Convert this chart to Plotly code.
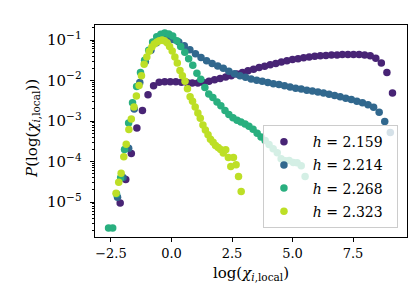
import plotly.graph_objects as go
import numpy as np

# ---- data; y given as log10 of P ----
x_h2159 = [-2.12,-1.89,-1.66,-1.43,-1.20,-0.97,-0.74,-0.51,-0.28,-0.05,0.18,0.41,0.64,0.86,1.09,1.32,1.55,1.78,2.01,2.24,
           2.47,2.70,2.93,3.16,3.39,3.62,3.85,4.08,4.31,4.54,4.77,5.00,5.23,5.46,5.69,5.92,6.15,6.38,6.61,6.84,
           7.06,7.29,7.52,7.75,7.98,8.21,8.44,8.67,8.90,9.13]
log10p_h2159 = [-5.02,-4.44,-3.80,-3.17,-2.74,-2.35,-2.13,-2.04,-2.03,-2.03,-2.03,-2.04,-2.05,-2.06,-2.06,-2.05,-2.02,-1.98,-1.95,-1.91,
                -1.88,-1.84,-1.80,-1.76,-1.72,-1.68,-1.65,-1.61,-1.58,-1.54,-1.51,-1.48,-1.46,-1.44,-1.42,-1.40,-1.39,-1.38,-1.37,-1.37,
                -1.36,-1.36,-1.36,-1.36,-1.37,-1.39,-1.45,-1.57,-1.80,-2.31]

x_h2214 = [-2.23,-2.00,-1.77,-1.54,-1.31,-1.08,-0.85,-0.62,-0.39,-0.16,0.07,0.30,0.53,0.76,0.99,1.22,1.45,1.68,1.91,2.14,
           2.37,2.60,2.83,3.06,3.29,3.52,3.75,3.98,4.21,4.44,4.67,4.90,5.13,5.36,5.59,5.82,6.05,6.28,6.51,6.74,
           6.97,7.20,7.43,7.66,7.89,8.12,8.35,8.58,8.81,9.04]
log10p_h2214 = [-4.88,-4.39,-3.67,-2.70,-2.05,-1.53,-1.25,-1.07,-0.97,-0.96,-0.99,-1.05,-1.14,-1.24,-1.34,-1.43,-1.51,-1.58,-1.64,-1.70,
                -1.77,-1.83,-1.88,-1.92,-1.96,-1.99,-2.02,-2.05,-2.08,-2.10,-2.13,-2.16,-2.19,-2.21,-2.24,-2.26,-2.28,-2.31,-2.34,-2.37,
                -2.40,-2.44,-2.47,-2.51,-2.55,-2.60,-2.66,-2.78,-3.01,-3.28]

x_h2268 = [-2.60,-2.43,-2.27,-2.10,-1.94,-1.77,-1.61,-1.44,-1.28,-1.11,-0.94,-0.78,-0.61,-0.44,-0.28,-0.11,0.05,0.22,0.38,0.55,
           0.71,0.88,1.05,1.21,1.38,1.54,1.71,1.88,2.04,2.21,2.37,2.54,2.71,2.87,3.04,3.20,3.37,3.54,3.70,3.87,
           4.03,4.20,4.37,4.53,4.70,4.86,5.03,5.19,5.36,5.52]
log10p_h2268 = [-5.64,-5.64,-4.80,-4.40,-3.70,-3.05,-2.55,-2.15,-1.80,-1.50,-1.25,-1.05,-0.92,-0.86,-0.83,-0.85,-0.90,-1.02,-1.16,-1.30,
                -1.46,-1.62,-1.82,-1.97,-2.17,-2.33,-2.42,-2.53,-2.62,-2.74,-2.84,-2.92,-2.98,-3.02,-3.07,-3.13,-3.20,-3.30,-3.39,-3.48,
                -3.58,-3.68,-3.78,-3.93,-3.98,-3.97,-4.02,-4.03,-4.10,-4.37]

x_h2323 = [-2.29,-2.18,-2.08,-1.97,-1.87,-1.76,-1.66,-1.55,-1.45,-1.34,-1.24,-1.13,-1.02,-0.92,-0.81,-0.71,-0.60,-0.50,-0.39,-0.29,
           -0.18,-0.08,0.03,0.14,0.24,0.35,0.45,0.56,0.66,0.77,0.87,0.98,1.09,1.19,1.30,1.40,1.51,1.61,1.72,1.82,
           1.93,2.03,2.14,2.24,2.35,2.45,2.56,2.67,2.77,2.88]
log10p_h2323 = [-4.78,-4.51,-4.29,-3.88,-3.57,-3.21,-2.95,-2.65,-2.38,-2.12,-1.88,-1.60,-1.42,-1.28,-1.17,-1.10,-1.05,-1.02,-1.00,-1.02,
                -1.07,-1.16,-1.27,-1.42,-1.57,-1.75,-1.88,-2.02,-2.20,-2.40,-2.51,-2.65,-2.80,-2.93,-3.10,-3.22,-3.34,-3.45,-3.52,-3.60,
                -3.65,-3.70,-3.79,-3.71,-3.90,-4.12,-3.90,-4.08,-4.37,-4.74]

labels = ["2.159", "2.214", "2.268", "2.323"]
colors = ["#482475", "#31688e", "#29af7f", "#bddf26"]
x_ticks = [-2.5, 0.0, 2.5, 5.0, 7.5]

series = [(x_h2159, log10p_h2159), (x_h2214, log10p_h2214),
          (x_h2268, log10p_h2268), (x_h2323, log10p_h2323)]

FONT = "DejaVu Serif"
NB = "\u00a0"

fig = go.Figure()
for k, ((xs, lp), lab, col) in enumerate(zip(series, labels, colors)):
    fig.add_trace(go.Scatter(
        x=xs, y=10 ** np.array(lp), mode="markers",
        marker=dict(size=7.5, color=col, line=dict(width=0)),
        name=NB + NB + "<i>h</i> = " + lab + NB + NB,
        legendgroup=f"g{k}",
    ))

axis_common = dict(
    showline=True, linecolor="black", linewidth=1, mirror=True,
    ticks="outside", ticklen=4, tickwidth=1, tickcolor="black",
    showgrid=False, zeroline=False,
)

fig.update_layout(
    width=416, height=298,
    margin=dict(l=87, r=17, t=17, b=69),
    paper_bgcolor="white", plot_bgcolor="white",
    font=dict(family=FONT, size=13, color="black"),
    showlegend=True,
    legend=dict(
        x=0.971, y=0.042, xanchor="right", yanchor="bottom",
        bgcolor="rgba(255,255,255,0.8)", bordercolor="#cccccc", borderwidth=1,
        font=dict(family=FONT, size=14, color="black"),
        itemsizing="trace", tracegroupgap=2,
    ),
    xaxis=dict(
        range=[-3.16, 9.73],
        tickmode="array", tickvals=x_ticks,
        ticktext=[("−" if v < 0 else "") + f"{abs(v):.1f}" for v in x_ticks],
        tickfont=dict(family=FONT, size=13, color="black"),
        title=dict(text="log(<i>χ</i><sub><i>i</i>,local</sub>)",
                   font=dict(family=FONT, size=15), standoff=7),
        **axis_common,
    ),
    yaxis=dict(
        type="log", range=[-5.86, -0.63],
        dtick=1, exponentformat="power",
        tickfont=dict(family=FONT, size=12, color="black"),
        ticklabelstandoff=6,
        minor=dict(ticks="outside", ticklen=2, tickwidth=0.8, tickcolor="black", showgrid=False),
        **axis_common,
    ),
    annotations=[dict(
        text="<i>P</i>(log(<i>χ</i><sub><i>i</i>,local</sub>))",
        xref="paper", yref="paper", x=(25 - 87) / 312, y=0.51,
        xanchor="center", yanchor="middle", textangle=-90, showarrow=False,
        font=dict(family=FONT, size=15, color="black"),
    )],
)

fig.write_html("out.html")
